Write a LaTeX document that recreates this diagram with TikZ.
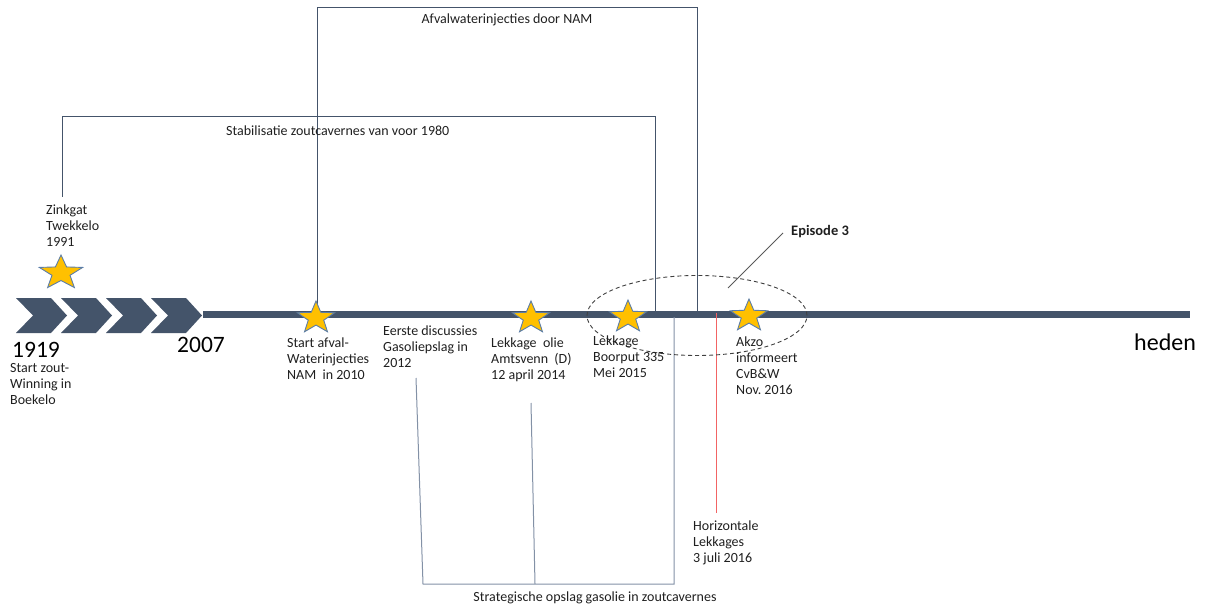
\documentclass[tikz,border=0pt]{standalone}
\usepackage{fontspec}
\setmainfont{Carlito}
\usetikzlibrary{shapes.geometric}
\definecolor{balk}{HTML}{44546A}
\definecolor{grijsblauw}{HTML}{8391A6}
\definecolor{goud}{HTML}{FFC000}
\definecolor{sterrand}{HTML}{5B7DA8}
\definecolor{rood}{HTML}{F26464}
\definecolor{tekst}{HTML}{1F1F1F}
\frenchspacing

\begin{document}
\begin{tikzpicture}[x=1pt,y=-1pt,
  ster/.style={star,star points=5,star point ratio=2.4,minimum size=34pt,inner sep=0pt,
    fill=goud,draw=sterrand,line width=0.9pt,xscale=1.15,transform shape},
  lbl/.style={anchor=north west,inner sep=0pt,align=left,text=tekst,font=\fontsize{14}{16}\selectfont},
  jaar/.style={anchor=west,inner sep=0pt,text=black,font=\fontsize{23.5}{26}\selectfont},
  lijn/.style={draw=balk,line width=1pt}]
  \useasboundingbox (0,0) rectangle (1205,604);

  % tijdlijn
  \foreach \i in {0,...,3}
    \fill[balk] ({16+45*\i},298) -- ({51+45*\i},298) -- ({67+45*\i},315.5)
      -- ({51+45*\i},333) -- ({16+45*\i},333) -- ({33+45*\i},315.5) -- cycle;
  \coordinate (begin) at (203,314.5);
  \coordinate (eind) at (1190,314.5);
  \draw[balk,line width=7pt] (begin) -- (eind);

  % hoekpunten van de balken
  \coordinate (s1) at (62,197);   \coordinate (s2) at (62,117);
  \coordinate (s3) at (655,117);  \coordinate (s4) at (655,312);
  \coordinate (a1) at (317,305);  \coordinate (a2) at (317,8);
  \coordinate (a3) at (697,8);    \coordinate (a4) at (697,312);
  \coordinate (g1) at (416,378);  \coordinate (g2) at (423,584);
  \coordinate (g3) at (674,584);  \coordinate (g4) at (674,317);
  \coordinate (m1) at (531,403);  \coordinate (m2) at (535,584);
  \coordinate (r1) at (716,313);  \coordinate (r2) at (716,513);
  \coordinate (e1) at (783,233);  \coordinate (e2) at (728,288);

  \draw[lijn] (s1) -- (s2) -- (s3) -- (s4);
  \draw[lijn] (a1) -- (a2) -- (a3) -- (a4);
  \draw[draw=grijsblauw,line width=1pt] (g1) -- (g2) -- (g3) -- (g4);
  \draw[draw=grijsblauw,line width=1pt] (m1) -- (m2);
  \draw[rood,line width=1pt] (r1) -- (r2);

  \node[ellipse,draw=black!75,dash pattern=on 4pt off 3pt,line width=0.9pt,
    minimum width=220pt,minimum height=80pt] (episode) at (697,315.5) {};
  \draw[black!65,line width=0.9pt] (e1) -- (e2);

  % sterren
  \node[ster,minimum size=36pt,xscale=1.1] (zinkgatster) at (61,273) {};
  \node[ster] (ster2010) at (316,318) {};
  \node[ster] (ster2014) at (531,318) {};
  \node[ster] (ster2015) at (628,317) {};
  \node[ster] (ster2016) at (749,316) {};

  % teksten
  \node[jaar] (j1919) at (12,350) {1919};
  \node[jaar] (j2007) at (177,345) {2007};
  \node[jaar,font=\fontsize{24}{26}\selectfont] (heden) at (1134,342) {heden};
  \node[lbl] (zinkgat) at (46,205) {Zinkgat\\Twekkelo\\1991};
  \node[lbl] (boekelo) at (10,363) {Start zout-\\Winning in\\Boekelo};
  \node[lbl] (afval2010) at (287,338) {Start afval-\\Waterinjecties\\NAM\ \ in 2010};
  \node[lbl] (gasolie) at (383,326) {Eerste discussies\\Gasoliepslag in\\2012};
  \node[lbl] (amtsvenn) at (491,338) {Lekkage\ \ olie\\Amtsvenn\ \ (D)\\12 april 2014};
  \node[lbl] (boorput) at (593,336) {Lekkage\\Boorput 335\\Mei 2015};
  \node[lbl] (akzo) at (736,337) {Akzo\\informeert\\CvB\&W\\Nov. 2016};
  \node[lbl] (horizontaal) at (693,521) {Horizontale\\Lekkages\\3 juli 2016};
  \node[lbl,anchor=center] (strategisch) at (595,598) {Strategische opslag gasolie in zoutcavernes};
  \node[lbl,anchor=center] (afvalnam) at (507,20) {Afvalwaterinjecties door NAM};
  \node[lbl,anchor=west] (stabilisatie) at (226,131) {Stabilisatie zoutcavernes van voor 1980};
  \node[lbl,anchor=west,font=\fontsize{14.5}{16}\selectfont\bfseries] (episode3) at (791,232) {Episode 3};
\end{tikzpicture}
\end{document}
